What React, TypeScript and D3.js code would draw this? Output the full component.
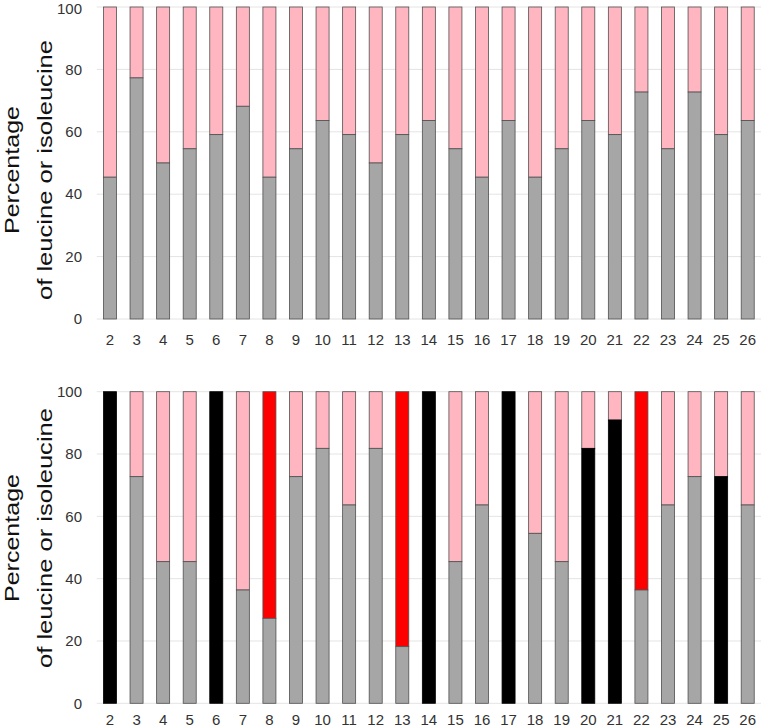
import React from "react";
import * as d3 from "d3";

const positions = [2,3,4,5,6,7,8,9,10,11,12,13,14,15,16,17,18,19,20,21,22,23,24,25,26];
const topShare = [45.45,77.27,50,54.55,59.09,68.18,45.45,54.55,63.64,59.09,50,59.09,63.64,54.55,45.45,63.64,45.45,54.55,63.64,59.09,72.73,54.55,72.73,59.09,63.64];
const bottomShare = [100,72.73,45.45,45.45,100,36.36,27.27,72.73,81.82,63.64,81.82,18.18,100,45.45,63.64,100,54.55,45.45,81.82,90.91,36.36,63.64,72.73,72.73,63.64];
const blackPositions = [2,6,14,17,20,21,25];
const redTopPositions = [8,13,22];
const yTicks = [0,20,40,60,80,100];
const titleLines = ["Percentage", "of leucine or isoleucine"];

const W = 762, H = 728;
const left = 96.7, right = 761;
const panels = [
  { top: 7, bottom: 319, values: topShare, highlight: false, labelY: 344.5, titleMid: 170 },
  { top: 391.7, bottom: 703.3, values: bottomShare, highlight: true, labelY: 725, titleMid: 538 },
];

const GRAY = "#a6a6a6", PINK = "#ffb6c1", RED = "#ff0000", BLACK = "#000000", EDGE = "#505050";
const FONT = "'Liberation Sans', Arial, sans-serif";

function Panel({ top, bottom, values, highlight, labelY, titleMid }: any) {
  const x = d3.scaleBand<number>().domain(positions).range([left, right]).paddingInner(0.51).paddingOuter(0.255);
  const y = d3.scaleLinear().domain([0, 100]).range([bottom, top]);
  return (
    <g>
      {yTicks.map((t) => (
        <g key={t}>
          <line x1={left} x2={right} y1={y(t)} y2={y(t)} stroke="#e4e4e4" strokeWidth={1} />
          <text x={82} y={Math.max(y(t), 8.5)} dy="0.35em" textAnchor="end" fontSize={15} fill="#333" fontFamily={FONT}>{t}</text>
        </g>
      ))}
      {positions.map((p, i) => {
        const v = values[i];
        const lowerFill = highlight && blackPositions.includes(p) ? BLACK : GRAY;
        const upperFill = highlight && redTopPositions.includes(p) ? RED : PINK;
        const bx = x(p)!;
        const bw = x.bandwidth();
        return (
          <g key={p}>
            {v < 100 && (
              <rect x={bx} y={y(100)} width={bw} height={y(v) - y(100)} fill={upperFill} stroke={EDGE} strokeWidth={0.8} />
            )}
            <rect x={bx} y={y(v)} width={bw} height={y(0) - y(v)} fill={lowerFill} stroke={lowerFill === BLACK ? BLACK : EDGE} strokeWidth={0.8} />
            <text x={bx + bw / 2} y={labelY} textAnchor="middle" fontSize={15} fill="#333" fontFamily={FONT}>{p}</text>
          </g>
        );
      })}
      <g transform={`translate(0,${titleMid}) rotate(-90)`}>
        <text x={0} y={19} textAnchor="middle" fontSize={21} fill="#111" fontFamily={FONT} textLength={128} lengthAdjust="spacingAndGlyphs">{titleLines[0]}</text>
        <text x={0} y={52} textAnchor="middle" fontSize={21} fill="#111" fontFamily={FONT} textLength={260} lengthAdjust="spacingAndGlyphs">{titleLines[1]}</text>
      </g>
    </g>
  );
}

export default function App() {
  return (
    <svg width={W} height={H} style={{ position: "absolute", left: 0, top: 0, background: "#fff" }}>
      {panels.map((p, i) => (
        <Panel key={i} {...p} />
      ))}
    </svg>
  );
}
